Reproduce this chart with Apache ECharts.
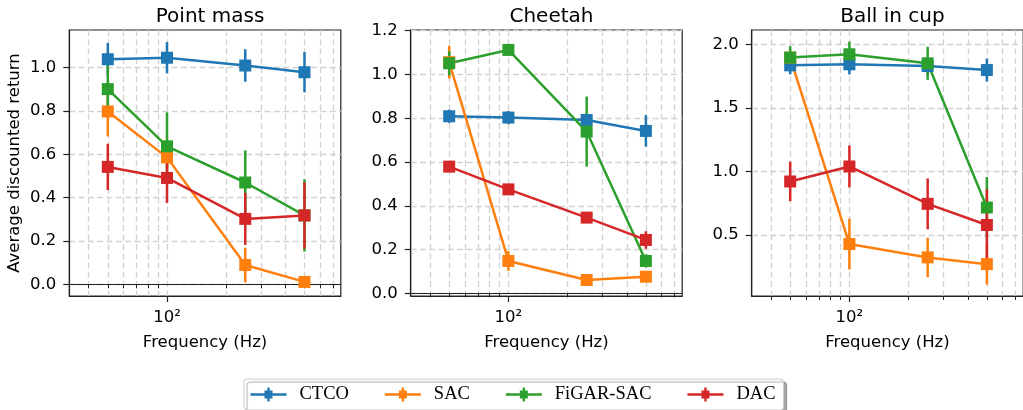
<!DOCTYPE html>
<html><head><meta charset="utf-8">
<script src="https://cdn.jsdelivr.net/npm/echarts@6/dist/echarts.min.js"></script>
<style>html,body{margin:0;padding:0;background:#fff}#c{width:1023px;height:410px}</style>
</head><body><div id="c"></div><script>
// ---- data ----
const freqs = [50, 100, 250, 500];
const methods = ['CTCO', 'SAC', 'FiGAR-SAC', 'DAC'];
const panelTitles = ['Point mass', 'Cheetah', 'Ball in cup'];
const xMinorTicks = [40, 50, 60, 70, 80, 90, 200, 300, 400, 500, 600, 700];
const xMajorTicks = [100];
const yTicksPM = [0, 0.2, 0.4, 0.6, 0.8, 1.0];
const yTicksCH = [0, 0.2, 0.4, 0.6, 0.8, 1.0, 1.2];
const yTicksBC = [0.5, 1.0, 1.5, 2.0];

// Point mass
const pmCTCO = [1.039, 1.046, 1.010, 0.979];
const pmCTCOErr = [0.075, 0.072, 0.075, 0.093];
const pmSAC = [0.798, 0.586, 0.089, 0.011];
const pmSACErr = [0.115, 0.05, 0.08, 0.01];
const pmFiGAR = [0.901, 0.637, 0.470, 0.318];
const pmFiGARErr = [0.11, 0.157, 0.148, 0.167];
const pmDAC = [0.542, 0.491, 0.302, 0.318];
const pmDACErr = [0.107, 0.115, 0.12, 0.153];

// Cheetah
const chCTCO = [0.809, 0.803, 0.792, 0.742];
const chCTCOErr = [0.03, 0.03, 0.03, 0.072];
const chSAC = [1.056, 0.148, 0.061, 0.076];
const chSACErr = [0.075, 0.045, 0.01, 0.01];
const chFiGAR = [1.051, 1.112, 0.739, 0.148];
const chFiGARErr = [0.055, 0.025, 0.16, 0.03];
const chDAC = [0.579, 0.475, 0.346, 0.244];
const chDACErr = [0.012, 0.012, 0.012, 0.04];

// Ball in cup
const bcCTCO = [1.834, 1.842, 1.829, 1.797];
const bcCTCOErr = [0.07, 0.08, 0.07, 0.09];
const bcSAC = [1.895, 0.429, 0.324, 0.271];
const bcSACErr = [0.05, 0.2, 0.155, 0.16];
const bcFiGAR = [1.895, 1.921, 1.850, 0.716];
const bcFiGARErr = [0.09, 0.1, 0.13, 0.24];
const bcDAC = [0.921, 1.039, 0.745, 0.579];
const bcDACErr = [0.155, 0.165, 0.2, 0.28];

// ---- build ----
const colors = ['#1f77b4', '#ff7f0e', '#2ca02c', '#d62728'];
const panels = [
  { vals: [pmCTCO, pmSAC, pmFiGAR, pmDAC], errs: [pmCTCOErr, pmSACErr, pmFiGARErr, pmDACErr], yMin: -0.054, yMax: 1.174, yTicks: yTicksPM },
  { vals: [chCTCO, chSAC, chFiGAR, chDAC], errs: [chCTCOErr, chSACErr, chFiGARErr, chDACErr], yMin: -0.012, yMax: 1.203, yTicks: yTicksCH },
  { vals: [bcCTCO, bcSAC, bcFiGAR, bcDAC], errs: [bcCTCOErr, bcSACErr, bcFiGARErr, bcDACErr], yMin: 0.0205, yMax: 2.112, yTicks: yTicksBC }
];
const gridLefts = [69.3, 410.7, 751.7];
const gridWidth = 271.5;
const gridTop = 30, gridHeight = 266;
const font = 'DejaVu Sans';
const axisColor = '#222';
const gridLine = { show: true, lineStyle: { color: '#d2d2d2', width: 1.3, type: [6, 3.3] } };

const grids = [], xAxes = [], yAxes = [], series = [], titles = [];
panels.forEach((p, i) => {
  grids.push({ left: gridLefts[i], top: gridTop, width: gridWidth, height: gridHeight,
    outerBoundsMode: 'none', containLabel: false,
    show: true, borderColor: axisColor, borderWidth: 1.2, backgroundColor: 'transparent' });
  titles.push({ text: panelTitles[i], left: gridLefts[i] + gridWidth / 2, textAlign: 'center', top: 2,
    textStyle: { fontFamily: font, fontSize: 20, fontWeight: 'normal', color: '#000' } });
  // minor log ticks
  xAxes.push({ type: 'log', logBase: 10, gridIndex: i, position: 'bottom', min: 31.86, max: 765,
    axisLine: { show: true, lineStyle: { color: axisColor, width: 1.2 } },
    axisTick: { show: true, length: 4, customValues: xMinorTicks, lineStyle: { color: axisColor, width: 1 } },
    axisLabel: { show: false }, splitLine: gridLine, minorTick: { show: false } });
  // major log ticks
  xAxes.push({ type: 'log', logBase: 10, gridIndex: i, position: 'bottom', offset: 0, min: 31.86, max: 765,
    name: 'Frequency (Hz)', nameLocation: 'middle', nameGap: 38,
    nameTextStyle: { fontFamily: font, fontSize: 16.5, color: '#000' },
    axisLine: { show: true, lineStyle: { color: axisColor, width: 1.2 } },
    axisTick: { show: true, length: 6, customValues: xMajorTicks, lineStyle: { color: axisColor, width: 1.2 } },
    axisLabel: { show: true, customValues: xMajorTicks, margin: 13, fontFamily: font, fontSize: 16.5, color: '#000',
      formatter: v => '10²' },
    splitLine: gridLine });
  yAxes.push({ type: 'value', gridIndex: i, min: p.yMin, max: p.yMax,
    name: i === 0 ? 'Average discounted return' : '', nameLocation: 'middle', nameGap: 46,
    nameTextStyle: { fontFamily: font, fontSize: 16.5, color: '#000' },
    axisLine: { show: true, lineStyle: { color: axisColor, width: 1.2 } },
    axisTick: { show: true, length: 6, customValues: p.yTicks, lineStyle: { color: axisColor, width: 1.2 } },
    axisLabel: { show: true, customValues: p.yTicks, margin: 13, fontFamily: font, fontSize: 16.5, color: '#000',
      formatter: v => v.toFixed(1) },
    splitLine: gridLine });
  methods.forEach((m, k) => {
    const errData = freqs.map((f, j) => [f, p.vals[k][j] - p.errs[k][j], p.vals[k][j] + p.errs[k][j]]);
    series.push({
      type: 'custom', name: m, xAxisIndex: 2 * i + 1, yAxisIndex: i, z: 2,
      itemStyle: { color: colors[k] },
      encode: { x: 0, y: [1, 2] },
      renderItem: (params, api) => {
        const a = api.coord([api.value(0), api.value(1)]);
        const b = api.coord([api.value(0), api.value(2)]);
        return { type: 'line', shape: { x1: a[0], y1: a[1], x2: b[0], y2: b[1] },
          style: { stroke: colors[k], lineWidth: 2.5 } };
      },
      data: errData, silent: true
    });
    series.push({
      type: 'line', name: m, xAxisIndex: 2 * i + 1, yAxisIndex: i, z: 2,
      data: freqs.map((f, j) => [f, p.vals[k][j]]),
      symbol: 'rect', symbolSize: 12, showSymbol: true,
      itemStyle: { color: colors[k], opacity: 1 },
      lineStyle: { color: colors[k], width: 2.5 },
      animation: false, silent: true
    });
  });
});

const legendIcon = 'path://M0,5.8H14V3H16.8V0H19.2V3H22V5.8H36V8.2H22V11H19.2V14H16.8V11H14V8.2H0Z';
const option = {
  animation: false,
  backgroundColor: '#fff',
  title: titles,
  grid: grids,
  xAxis: xAxes,
  yAxis: yAxes,
  series: series,
  legend: {
    data: methods, left: 244, top: 379, orient: 'horizontal',
    icon: legendIcon, itemWidth: 36, itemHeight: 14, itemGap: 36,
    padding: [6, 8, 6, 6.5], borderColor: '#cccccc', borderWidth: 1, borderRadius: 3,
    backgroundColor: '#fff', shadowColor: 'rgba(0,0,0,0.35)', shadowOffsetX: 3, shadowOffsetY: 3, shadowBlur: 1,
    selectedMode: false, itemStyle: { borderWidth: 0 },
    textStyle: { fontFamily: 'Liberation Serif', fontSize: 18.5, color: '#000', padding: [0, 0, 0, 8] }
  }
};
const chart = echarts.init(document.getElementById('c'), null, { renderer: 'canvas' });
chart.setOption(option);
</script></body></html>
